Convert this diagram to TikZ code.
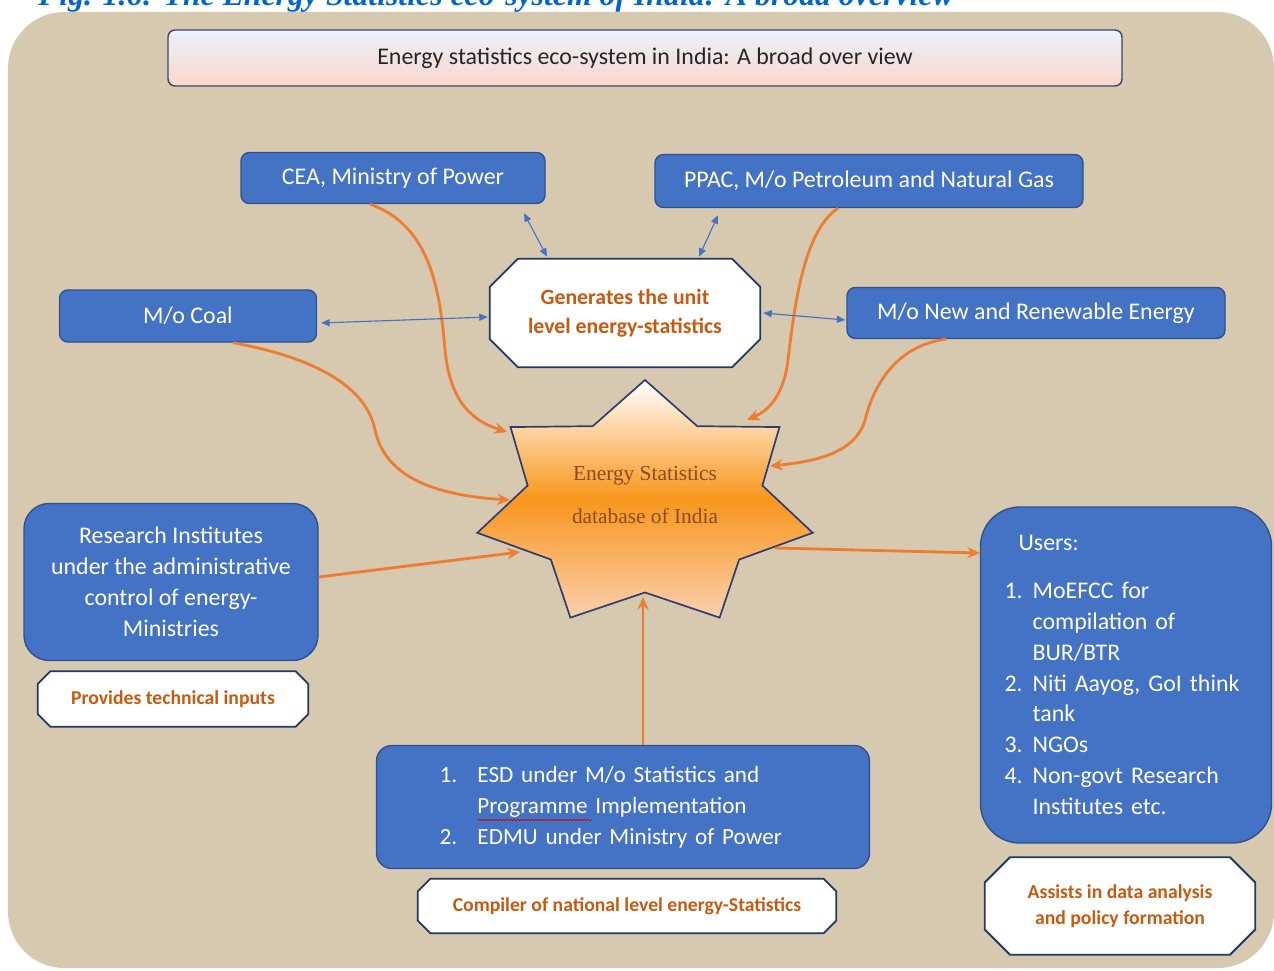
\documentclass[tikz,border=0pt]{standalone}
\usepackage{fontspec}
\setmainfont{Carlito}
\newfontfamily\dbfont{Liberation Serif}
\usetikzlibrary{arrows.meta, decorations.pathmorphing, backgrounds}
\definecolor{bgbeige}{RGB}{214,201,176}
\definecolor{boxblue}{RGB}{68,114,196}
\definecolor{boxedge}{RGB}{47,82,143}
\definecolor{feedorange}{RGB}{237,125,49}
\definecolor{octtext}{RGB}{197,90,17}
\definecolor{octedge}{RGB}{31,56,100}
\definecolor{stardark}{RGB}{47,62,110}
\definecolor{starorange}{RGB}{248,150,28}
\definecolor{starpeach}{RGB}{250,208,175}
\definecolor{startext}{RGB}{140,75,30}
\definecolor{headtop}{RGB}{234,242,252}
\definecolor{headbot}{RGB}{250,214,204}
\definecolor{headedge}{RGB}{60,70,100}
\definecolor{titleblue}{RGB}{0,102,204}
\newcommand{\pxu}{*0.025cm}
\pgfdeclarelayer{canvas}
\pgfsetlayers{canvas,background,main}

\begin{document}
\begin{tikzpicture}[x=0.025cm, y=-0.025cm,
    bluebox/.style={draw=boxedge, line width=1pt, fill=boxblue, text=white,
      rounded corners=6pt, font=\fontsize{17}{22}\selectfont, inner sep=0pt},
    octbox/.style={text=octtext, font=\bfseries\fontsize{14}{18}\selectfont, align=center, inner sep=0pt},
    octframe/.style={draw=octedge, line width=1.3pt, fill=white},
    bluelink/.style={draw=boxblue, line width=0.8pt,
      arrows={Triangle[length=6pt,width=5pt]-Triangle[length=6pt,width=5pt]}},
    feed/.style={draw=feedorange, line width=2pt, arrows={-Stealth[length=9pt,width=8pt]}}]
    \useasboundingbox (0,0) rectangle (1274,971);
    \clip (0,0) rectangle (1274,971);

    % Canvas
    \begin{pgfonlayer}{canvas}
      \fill[bgbeige, rounded corners=40pt] (8,12) rectangle (1274,968);
    \end{pgfonlayer}
    \node[anchor=base west, inner sep=0pt, text=titleblue,
      font=\dbfont\bfseries\itshape\fontsize{22.6}{26}\selectfont] (caption) at (38,6)
      {Fig. 1.6: The Energy Statistics eco-system of India: A broad overview};

    % Heading
    \node[draw=headedge, line width=1pt, rounded corners=5pt, top color=headtop,
      bottom color=headbot, minimum width=954\pxu, minimum height=56\pxu,
      font=\fontsize{17}{20}\selectfont, text=black!85] (head) at (645,58)
      {Energy statistics eco-system in India: A broad over view};

    % Producers
    \node[bluebox, minimum width=304\pxu, minimum height=51\pxu] (cea) at (393,178) {CEA, Ministry of Power};
    \node[bluebox, minimum width=428\pxu, minimum height=53\pxu] (ppac) at (869,181) {PPAC, M/o Petroleum and Natural Gas};
    \node[bluebox, minimum width=257\pxu, minimum height=52\pxu] (coal) at (188,316) {M/o Coal};
    \node[bluebox, minimum width=378\pxu, minimum height=51\pxu] (mnre) at (1036,313) {M/o New and Renewable Energy};
    \node[octbox, minimum width=270\pxu, minimum height=108\pxu,
      font=\bfseries\fontsize{15.5}{21}\selectfont] (gen) at (625,313)
      {Generates the unit\\level energy-statistics};

    % Research institutes
    \node[bluebox, rounded corners=18pt, minimum width=294\pxu, minimum height=157\pxu, align=center] (research) at (171,582)
      {Research Institutes\\under the administrative\\control of energy-\\Ministries};
    \node[octbox, minimum width=270\pxu, minimum height=55\pxu] (tech) at (173,699) {Provides technical inputs};

    % Compilers
    \node[bluebox, rounded corners=11pt, minimum width=493\pxu, minimum height=123\pxu,
      text width=367\pxu, align=left, font=\fontsize{16.5}{22}\selectfont] (esd) at (623,807)
      {\makebox[27pt][l]{1.}ESD under M/o Statistics and\\
       \hspace*{27pt}Programme Implementation\\
       \makebox[27pt][l]{2.}EDMU under Ministry of Power};
    \draw[red!80!black, line width=0.5pt, decorate,
      decoration={snake, amplitude=0.5pt, segment length=2.5pt}] (478,820) -- (592,820);
    \node[octbox, minimum width=418\pxu, minimum height=54\pxu] (comp) at (627,906) {Compiler of national level energy-Statistics};

    % Users
    \node[bluebox, rounded corners=28pt, minimum width=291\pxu, minimum height=336\pxu,
      text width=243\pxu, align=left] (users) at (1126,675)
      {\hspace*{10pt}Users:\\[12pt]
       \makebox[20pt][l]{1.}MoEFCC for\\
       \hspace*{20pt}compilation of\\
       \hspace*{20pt}BUR/BTR\\
       \makebox[20pt][l]{2.}Niti Aayog, GoI think\\
       \hspace*{20pt}tank\\
       \makebox[20pt][l]{3.}NGOs\\
       \makebox[20pt][l]{4.}Non-govt Research\\
       \hspace*{20pt}Institutes etc.};
    \node[octbox, minimum width=270\pxu, minimum height=97\pxu] (assist) at (1120,906) {Assists in data analysis\\and policy formation};

    % Octagon frames behind the texts
    \begin{pgfonlayer}{background}
      \foreach \n/\c in {gen/20pt, tech/9pt, comp/9pt, assist/18pt}
        \draw[octframe] ([xshift=\c]\n.north west) -- ([xshift=-\c]\n.north east)
          -- ([yshift=-\c]\n.north east) -- ([yshift=\c]\n.south east)
          -- ([xshift=-\c]\n.south east) -- ([xshift=\c]\n.south west)
          -- ([yshift=\c]\n.south west) -- ([yshift=-\c]\n.north west) -- cycle;
    \end{pgfonlayer}

    % Database star
    \shadedraw[draw=stardark, line width=1.2pt, top color=white, bottom color=starpeach,
      middle color=starorange] (645,380)
      \foreach \k [evaluate=\k as \ang using 90+\k*360/14,
                   evaluate=\k as \rr using 0.85+0.15*cos(\k*180)] in {1,...,13}
      { -- ({645+172*\rr*cos(\ang)}, {505-125*\rr*sin(\ang)}) } -- cycle;
    \node[font=\dbfont\fontsize{15.2}{30}\selectfont, text=startext, align=center] (db) at (645,495)
      {Energy Statistics\\database of India};
    \coordinate (db-cea) at (507,432);
    \coordinate (db-coal) at (510,500);
    \coordinate (db-ppac) at (747,420);
    \coordinate (db-mnre) at (770,466);
    \coordinate (db-res) at (520,552);
    \coordinate (db-out) at (775,548);
    \coordinate (db-bot) at (643,597);

    % Flows into the database
    \draw[feed] ([xshift=-23\pxu]cea.south) .. controls (430,225) and (440,290) .. (445,350)
      .. controls (450,400) and (470,420) .. (db-cea);
    \draw[feed] ([xshift=45\pxu]coal.south) .. controls (300,355) and (365,380) .. (375,430)
      .. controls (385,475) and (430,495) .. (db-coal);
    \draw[feed] ([xshift=-31\pxu]ppac.south) .. controls (805,230) and (795,300) .. (788,360)
      .. controls (783,400) and (765,412) .. (db-ppac);
    \draw[feed] ([xshift=-90\pxu]mnre.south) .. controls (900,345) and (875,380) .. (865,420)
      .. controls (855,455) and (810,462) .. (db-mnre);
    \draw[feed] ([yshift=5\pxu]research.east) -- (db-res);
    \draw[feed] ([xshift=20\pxu]esd.north) -- (db-bot);
    \draw[feed] (db-out) -- ([yshift=122\pxu]users.west);

    % Exchange with the unit level statistics
    \draw[bluelink] ([xshift=131\pxu,yshift=-9\pxu]cea.south) -- ([xshift=-78\pxu,yshift=2\pxu]gen.north);
    \draw[bluelink] ([xshift=-151\pxu,yshift=-7\pxu]ppac.south) -- ([xshift=74\pxu,yshift=2\pxu]gen.north);
    \draw[bluelink] ([xshift=4\pxu,yshift=-7\pxu]coal.east) -- ([xshift=-2\pxu,yshift=-4\pxu]gen.west);
    \draw[bluelink] ([xshift=3\pxu]gen.east) -- ([xshift=-1\pxu,yshift=-7\pxu]mnre.west);
\end{tikzpicture}
\end{document}
